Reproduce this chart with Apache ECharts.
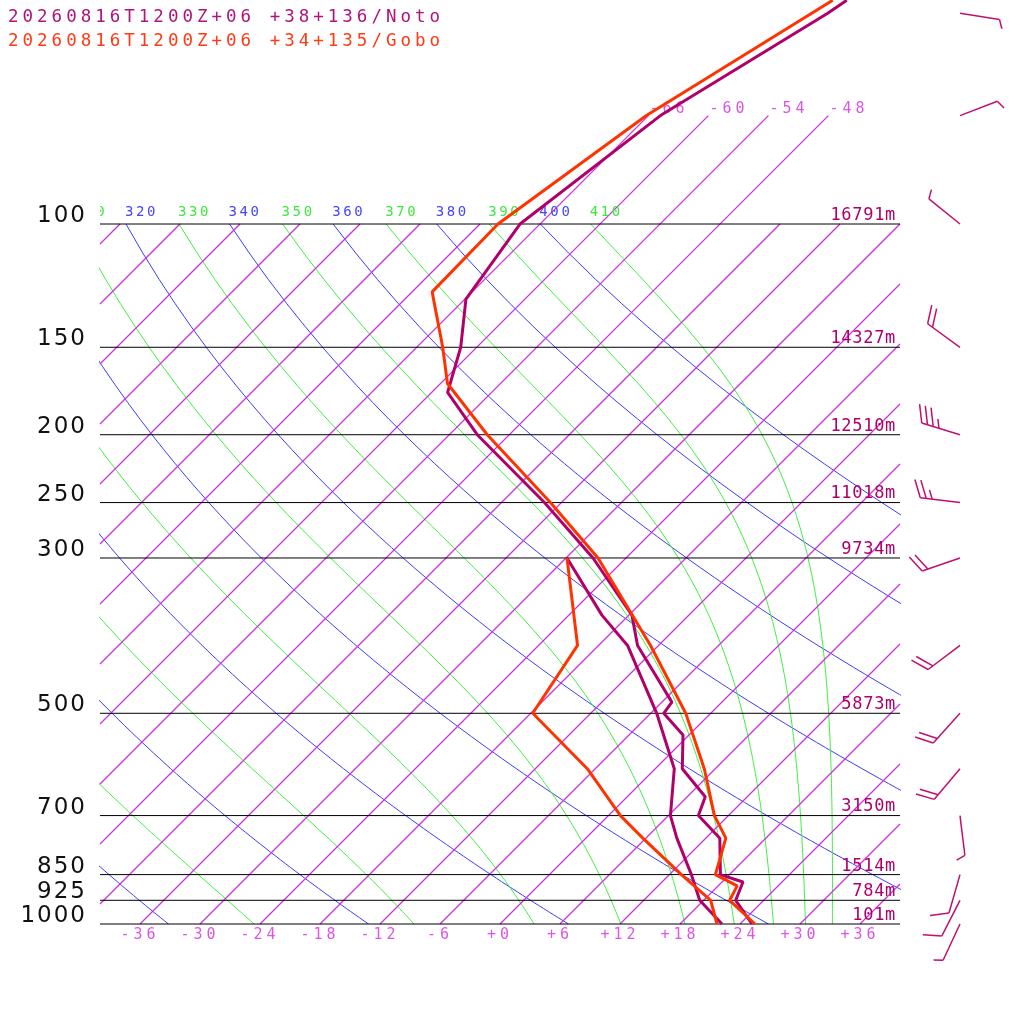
<!DOCTYPE html>
<html>
<head>
<meta charset="utf-8">
<script src="https://cdn.jsdelivr.net/npm/echarts@6/dist/echarts.min.js"></script>
<style>
html, body { margin: 0; padding: 0; background: #fff; }
#chart { width: 1024px; height: 1024px; }
</style>
</head>
<body>
<div id="chart"></div>
<script>
// Noto sounding (hPa / degC)
var notoP   = [47.9, 50, 70, 100, 128, 150, 174, 200, 250, 300, 362, 400, 482, 500, 537, 600, 658, 700, 754, 850, 871, 925, 1000];
var notoT   = [-57.7, -58.3, -64.8, -68.0, -65.9, -61.6, -58.4, -51.2, -37.7, -27.3, -17.7, -14.1, -5.0, -4.7, -0.6, 2.7, 7.8, 9.0, 13.4, 17.1, 20.1, 21.2, 25.2];
var notoTdP = [300, 362, 400, 500, 600, 700, 754, 850, 925, 1000];
var notoTd  = [-29.9, -20.7, -15.1, -5.4, 1.9, 6.2, 9.1, 14.2, 17.6, 22.2];

// Gobo sounding
var goboP   = [47.9, 50, 70, 100, 125, 150, 169, 200, 250, 300, 400, 500, 600, 700, 754, 850, 882, 925, 1000];
var goboT   = [-59.1, -59.9, -66.2, -70.2, -70.0, -63.4, -59.3, -50.2, -37.1, -26.8, -12.8, -2.5, 4.9, 10.6, 14.0, 16.6, 19.9, 20.6, 25.5];
var goboTdP = [300, 400, 500, 600, 700, 754, 850, 925, 1000];
var goboTd  = [-29.9, -20.1, -17.8, -6.8, 1.2, 5.7, 13.2, 18.7, 21.7];

// Noto winds: direction (deg) and speed (kt)
var windP   = [50, 70, 100, 150, 200, 250, 300, 400, 500, 600, 700, 850, 925, 1000];
var windDir = [99, 69, 309, 306, 287, 277, 251, 233, 222, 220, 173, 196, 207, 205];
var windKt  = [5, 5, 5, 20, 35, 25, 20, 20, 20, 20, 5, 10, 10, 5];

// isobars and their heights
var isobarP = [100, 150, 200, 250, 300, 500, 700, 850, 925, 1000];
var isobarH = ['16791m', '14327m', '12510m', '11018m', '9734m', '5873m', '3150m', '1514m', '784m', '101m'];

// background lines of the diagram
var isotherms   = [-108, -102, -96, -90, -84, -78, -72, -66, -60, -54, -48, -42, -36, -30, -24, -18, -12, -6, 0, 6, 12, 18, 24, 30, 36];
var isoLabelled = [-66, -60, -54, -48];   // these run on up to 70 hPa
var dryTheta    = [240, 260, 280, 300, 320, 340, 360, 380, 400];
var moistThetaE = [250, 270, 290, 310, 330, 350, 370, 390, 410];

var NOTO = '#b0006a', GOBO = '#ff3300';
var ISOTHERM_COLOR = '#cc33dd', DRY = '#3c3cff', MOIST = '#40ee40';
var MONO = "'DejaVu Sans Mono', monospace";

// the reference text is set wide: extra letter spacing per font size
var SPACING = { '17.5': '4px', '15': '4px', '14': '2.6px', '23': '2px', '17': '0.7px' };
(function () {
  var proto = CanvasRenderingContext2D.prototype;
  var fill = proto.fillText;
  proto.fillText = function () {
    var m = /([\d.]+)px/.exec(this.font);
    if ('letterSpacing' in this) this.letterSpacing = (m && SPACING[m[1]]) || '0px';
    return fill.apply(this, arguments);
  };
})();

var SKEW = 30.4;     // degC per ln(1000/p): 45 degree isotherms
var P_TOP = 47.86;   // pressure at the top edge
var X_MIN = -40, X_MAX = 40;

function sx(t, p) { return t + SKEW * Math.log(1000 / p); }
function pair(ps, ts) { return ps.map(function (p, i) { return [sx(ts[i], p), p]; }); }

var levels = [];
for (var lp = 1000; lp >= 100; lp -= 10) levels.push(lp);

function esat(tc) { return 6.112 * Math.exp(17.67 * tc / (tc + 243.5)); }
function thetaE(tk, p) {
  var e = esat(tk - 273.15);
  if (e > 0.4 * p) return 1e9;
  var r = 622 * e / (p - e);
  return tk * Math.pow(1000 / p, 0.2854 * (1 - 0.00028 * r)) *
    Math.exp((3.376 / tk - 0.00254) * r * (1 + 0.00081 * r));
}
function moistT(te, p) {
  var lo = 120, hi = 340;
  for (var k = 0; k < 60; k++) {
    var mid = (lo + hi) / 2;
    if (thetaE(mid, p) > te) hi = mid; else lo = mid;
  }
  return (lo + hi) / 2 - 273.15;
}
function dryT(th, p) { return th * Math.pow(p / 1000, 0.2857) - 273.15; }

// part of an isotherm inside the plot, as two [x, p] ends
function isoSegment(t, top) {
  var l0 = Math.max(0, (X_MIN - t) / SKEW);
  var l1 = Math.min(Math.log(1000 / top), (X_MAX - t) / SKEW);
  if (l1 <= l0) return null;
  return [t + SKEW * l0, 1000 / Math.exp(l0), t + SKEW * l1, 1000 / Math.exp(l1)];
}

function thin(data, color) {
  return { type: 'line', data: data, symbol: 'none', silent: true, clip: true,
    itemStyle: { color: color }, lineStyle: { color: color, width: 1 }, z: 1 };
}
function profile(data, color) {
  return { type: 'line', data: data, symbol: 'none', silent: true, clip: true,
    itemStyle: { color: color }, lineStyle: { color: color, width: 3 }, z: 5 };
}

var series = [];
dryTheta.forEach(function (th) {
  series.push(thin(levels.map(function (p) { return [sx(dryT(th, p), p), p]; }), DRY));
});
moistThetaE.forEach(function (te) {
  series.push(thin(levels.map(function (p) { return [sx(moistT(te, p), p), p]; }), MOIST));
});

// isotherms, straight lines in the skewed frame
var isoSegs = isotherms.map(function (t) {
  return isoSegment(t, isoLabelled.indexOf(t) >= 0 ? 70 : 100);
}).filter(function (s) { return s; });
series.push({
  type: 'custom', silent: true, clip: false, z: 2,
  data: isoSegs,
  renderItem: function (params, api) {
    var a = api.coord([api.value(0), api.value(1)]);
    var b = api.coord([api.value(2), api.value(3)]);
    return { type: 'polyline', shape: { points: [a, b] },
      style: { stroke: ISOTHERM_COLOR, fill: null, lineWidth: 1.3 } };
  }
});

// isobars with pressure and height labels
series.push({
  type: 'custom', silent: true, clip: false, z: 3,
  data: isobarP.map(function (p, i) { return [0, p, i]; }),
  renderItem: function (params, api) {
    var i = api.value(2), p = api.value(1);
    var a = api.coord([X_MIN, p]), b = api.coord([X_MAX, p]);
    return { type: 'group', children: [
      { type: 'line', shape: { x1: a[0], y1: a[1], x2: b[0], y2: b[1] },
        style: { stroke: '#000', lineWidth: 1 } },
      { type: 'text', style: { text: String(isobarP[i]), x: a[0] - 13, y: a[1] - 8,
        align: 'right', verticalAlign: 'middle', fill: '#111',
        fontSize: 23, fontFamily: "'DejaVu Sans', sans-serif" } },
      { type: 'text', style: { text: isobarH[i], x: b[0] - 4, y: a[1] - 8.5,
        align: 'right', verticalAlign: 'middle', fill: NOTO,
        fontSize: 17, fontFamily: MONO } }
    ] };
  }
});

// adiabat labels along 100 hPa (clipped to the plot); only those reaching the plot
var adiabatLabels = dryTheta.map(function (th) { return [sx(dryT(th, 100), 100), 100, th, 0]; })
  .concat(moistThetaE.map(function (te) { return [sx(moistT(te, 100), 100), 100, te, 1]; }))
  .filter(function (d) { return d[0] > -44; });
series.push({
  type: 'custom', silent: true, clip: true, z: 4,
  data: adiabatLabels,
  renderItem: function (params, api) {
    var c = api.coord([api.value(0), api.value(1)]);
    return { type: 'text', style: { text: String(api.value(2)), x: c[0] - 1, y: c[1] - 12,
      align: 'left', verticalAlign: 'middle', fill: api.value(3) ? '#3ee83e' : '#4545ff',
      fontSize: 14, fontFamily: MONO } };
  }
});

// isotherm labels at the top ends
series.push({
  type: 'custom', silent: true, clip: false, z: 4,
  data: isoLabelled.map(function (t) { return [sx(t, 70), 70, t]; }),
  renderItem: function (params, api) {
    var c = api.coord([api.value(0), api.value(1)]);
    return { type: 'text', style: { text: String(api.value(2)), x: c[0] + 1, y: c[1] - 6,
      align: 'left', verticalAlign: 'middle', fill: '#dd55e6', fontSize: 15, fontFamily: MONO } };
  }
});

series.push(profile(pair(notoP, notoT), NOTO));
series.push(profile(pair(notoTdP, notoTd), NOTO));
series.push(profile(pair(goboP, goboT), GOBO));
series.push(profile(pair(goboTdP, goboTd), GOBO));

// wind barbs, column to the right of the plot
series.push({
  type: 'custom', silent: true, clip: false, z: 6,
  data: windP.map(function (p, i) { return [0, p, windDir[i], windKt[i]]; }),
  renderItem: function (params, api) {
    var y0 = api.coord([0, api.value(1)])[1], x0 = 960;
    var a = api.value(2) * Math.PI / 180, kt = api.value(3);
    var dx = Math.sin(a), dy = -Math.cos(a);
    var tx = x0 + dx * 40, ty = y0 + dy * 40;
    var fx = 0.92 * -dy + 0.4 * dx, fy = 0.92 * dx + 0.4 * dy;
    var st = { stroke: '#c0106e', lineWidth: 1.5 };
    var kids = [{ type: 'line', shape: { x1: x0, y1: y0, x2: tx, y2: ty }, style: st }];
    var full = Math.floor(kt / 10), half = Math.round((kt - full * 10) / 5), d = 0;
    function feather(len) {
      var bx = tx - dx * d, by = ty - dy * d;
      kids.push({ type: 'line', shape: { x1: bx, y1: by, x2: bx + fx * len, y2: by + fy * len }, style: st });
      d += 6;
    }
    for (var k = 0; k < full; k++) feather(19);
    if (half) feather(9.5);
    return { type: 'group', children: kids };
  }
});

var chart = echarts.init(document.getElementById('chart'), null, { renderer: 'canvas' });
chart.setOption({
  animation: false,
  backgroundColor: '#fff',
  title: [
    { text: '20260816T1200Z+06 +38+136/Noto', left: 8, top: 8, padding: 0,
      textStyle: { color: '#b0137a', fontSize: 17.5, fontWeight: 'normal', fontFamily: MONO } },
    { text: '20260816T1200Z+06 +34+135/Gobo', left: 8, top: 32, padding: 0,
      textStyle: { color: '#ff3a14', fontSize: 17.5, fontWeight: 'normal', fontFamily: MONO } }
  ],
  grid: [
    { left: 100, top: 0, width: 800, height: 924 },
    { left: 140, top: 0, width: 720, height: 924 }
  ],
  xAxis: [
    { type: 'value', gridIndex: 0, min: X_MIN, max: X_MAX, show: false },
    { type: 'value', gridIndex: 1, min: -36, max: 36, interval: 6,
      axisLine: { show: false }, axisTick: { show: false }, splitLine: { show: false },
      axisLabel: { margin: 4, color: '#dd55e6', fontSize: 15, fontFamily: MONO,
        formatter: function (v) { return (v >= 0 ? '+' : '') + v; } } }
  ],
  yAxis: [
    { type: 'log', gridIndex: 0, min: P_TOP, max: 1000, inverse: true, show: false },
    { type: 'value', gridIndex: 1, show: false }
  ],
  series: series
});
</script>
</body>
</html>
